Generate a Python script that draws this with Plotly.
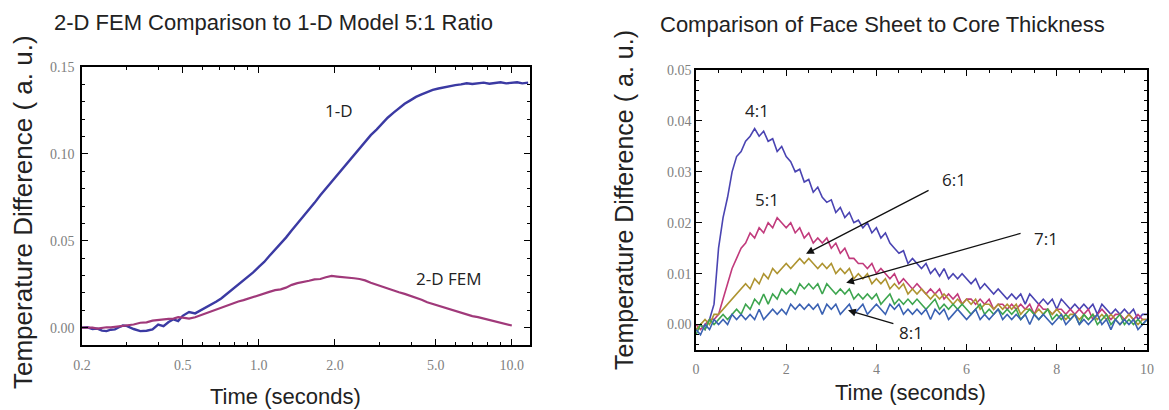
import math
import plotly.graph_objects as go

# ---------------- Left chart data (log time axis) ----------------
LEFT_T = [0.20, 0.21, 0.22, 0.23, 0.24, 0.25, 0.26, 0.27, 0.28, 0.29,
          0.30, 0.32, 0.34, 0.36, 0.38, 0.40, 0.42, 0.44, 0.46, 0.48,
          0.50, 0.53, 0.56, 0.59, 0.62, 0.65, 0.68, 0.71, 0.75, 0.79,
          0.83, 0.87, 0.91, 0.95, 1.00, 1.05, 1.10, 1.16, 1.22, 1.28,
          1.35, 1.42, 1.50, 1.58, 1.66, 1.75, 1.84, 1.94, 2.04, 2.15,
          2.26, 2.38, 2.50, 2.63, 2.77, 2.92, 3.07, 3.23, 3.40, 3.58,
          3.77, 3.97, 4.18, 4.40, 4.63, 4.87, 5.13, 5.40, 5.68, 5.98,
          6.30, 6.63, 6.98, 7.35, 7.74, 8.15, 8.58, 9.03, 9.50, 10.0,
          10.5, 11.0, 11.6]

ONE_D = [0.0000, 0.0002, -0.0008, -0.0006, -0.0017, -0.0020, -0.0012, -0.0010, 0.0002, 0.0012,
         0.0010, -0.0008, -0.0020, -0.0018, -0.0010, 0.0018, 0.0008, 0.0032, 0.0048, 0.0038,
         0.0068, 0.0090, 0.0082, 0.0100, 0.0118, 0.0132, 0.0150, 0.0168, 0.0196, 0.0222,
         0.0248, 0.0272, 0.0298, 0.0318, 0.0350, 0.0378, 0.0412, 0.0448, 0.0482, 0.0518,
         0.0560, 0.0598, 0.0640, 0.0680, 0.0718, 0.0762, 0.0800, 0.0842, 0.0880, 0.0922,
         0.0958, 0.0998, 0.1036, 0.1070, 0.1108, 0.1140, 0.1175, 0.1208, 0.1236, 0.1262,
         0.1288, 0.1308, 0.1328, 0.1342, 0.1356, 0.1368, 0.1376, 0.1384, 0.1390, 0.1396,
         0.1400, 0.1406, 0.1402, 0.1408, 0.1410, 0.1404, 0.1410, 0.1412, 0.1406, 0.1410,
         0.1412, 0.1406, 0.1410]

TWO_D_FEM = [0.0000, 0.0001, 0.0000, -0.0006, 0.0000, 0.0002, 0.0001, 0.0004, 0.0008, 0.0010,
             0.0012, 0.0018, 0.0028, 0.0030, 0.0040, 0.0042, 0.0044, 0.0050, 0.0052, 0.0060,
             0.0058, 0.0052, 0.0060, 0.0072, 0.0084, 0.0098, 0.0108, 0.0118, 0.0128, 0.0140,
             0.0150, 0.0158, 0.0168, 0.0176, 0.0188, 0.0196, 0.0206, 0.0216, 0.0220, 0.0230,
             0.0246, 0.0256, 0.0262, 0.0270, 0.0278, 0.0280, 0.0290, 0.0298, 0.0294, 0.0292,
             0.0290, 0.0284, 0.0280, 0.0272, 0.0258, 0.0246, 0.0236, 0.0224, 0.0214, 0.0204,
             0.0194, 0.0184, 0.0172, 0.0160, 0.0146, 0.0136, 0.0124, 0.0114, 0.0104, 0.0094,
             0.0084, 0.0074, 0.0066, 0.0060, 0.0052, 0.0044, 0.0036, 0.0030, 0.0022, 0.0012]

LEFT_XTICKS = [0.2, 0.5, 1.0, 2.0, 5.0, 10.0]
LEFT_XTICKTEXT = ["0.2", "0.5", "1.0", "2.0", "5.0", "10.0"]
LEFT_XMINOR = [0.3, 0.4, 0.6, 0.7, 0.8, 0.9, 3, 4, 6, 7, 8, 9]
LEFT_YTICKS = [0.00, 0.05, 0.10, 0.15]
LEFT_YTICKTEXT = ["0.00", "0.05", "0.10", "0.15"]

# ---------------- Right chart data (linear time axis) ----------------
RIGHT_T = [0.0, 0.1, 0.2, 0.3, 0.4, 0.5, 0.6, 0.7, 0.8, 0.9,
           1.0, 1.1, 1.2, 1.3, 1.4, 1.5, 1.6, 1.7, 1.8, 1.9,
           2.0, 2.1, 2.2, 2.3, 2.4, 2.5, 2.6, 2.7, 2.8, 2.9,
           3.0, 3.1, 3.2, 3.3, 3.4, 3.5, 3.6, 3.7, 3.8, 3.9,
           4.0, 4.1, 4.2, 4.3, 4.4, 4.5, 4.6, 4.7, 4.8, 4.9,
           5.0, 5.1, 5.2, 5.3, 5.4, 5.5, 5.6, 5.7, 5.8, 5.9,
           6.0, 6.1, 6.2, 6.3, 6.4, 6.5, 6.6, 6.7, 6.8, 6.9,
           7.0, 7.1, 7.2, 7.3, 7.4, 7.5, 7.6, 7.7, 7.8, 7.9,
           8.0, 8.1, 8.2, 8.3, 8.4, 8.5, 8.6, 8.7, 8.8, 8.9,
           9.0, 9.1, 9.2, 9.3, 9.4, 9.5, 9.6, 9.7, 9.8, 9.9,
           10.0]

RATIO_4_1 = [-0.001, 0.000, -0.001, 0.001, 0.004, 0.015, 0.021, 0.025, 0.030, 0.033,
             0.034, 0.036, 0.037, 0.0385, 0.037, 0.038, 0.036, 0.0365, 0.034, 0.035,
             0.033, 0.032, 0.030, 0.0305, 0.028, 0.0285, 0.026, 0.027, 0.025, 0.024,
             0.0245, 0.022, 0.023, 0.021, 0.022, 0.020, 0.0205, 0.019, 0.020, 0.018,
             0.019, 0.017, 0.018, 0.016, 0.015, 0.014, 0.0145, 0.012, 0.013, 0.012,
             0.011, 0.012, 0.010, 0.011, 0.0095, 0.011, 0.009, 0.010, 0.009, 0.010,
             0.009, 0.008, 0.009, 0.007, 0.008, 0.007, 0.006, 0.007, 0.006, 0.005,
             0.006, 0.005, 0.006, 0.004, 0.006, 0.005, 0.004, 0.005, 0.004, 0.005,
             0.003, 0.005, 0.004, 0.003, 0.004, 0.003, 0.004, 0.003, 0.004, 0.002,
             0.004, 0.003, 0.002, 0.003, 0.002, 0.003, 0.002, 0.003, 0.001, 0.002,
             0.002]

RATIO_5_1 = [0.000, -0.001, 0.000, 0.001, 0.001, 0.002, 0.005, 0.008, 0.011, 0.013,
             0.015, 0.016, 0.018, 0.017, 0.019, 0.018, 0.020, 0.019, 0.021, 0.020,
             0.019, 0.020, 0.018, 0.019, 0.017, 0.018, 0.016, 0.017, 0.016, 0.017,
             0.015, 0.016, 0.014, 0.015, 0.013, 0.013, 0.012, 0.012, 0.011, 0.012,
             0.010, 0.011, 0.010, 0.009, 0.010, 0.008, 0.009, 0.008, 0.007, 0.008,
             0.007, 0.006, 0.007, 0.006, 0.007, 0.005, 0.006, 0.005, 0.006, 0.004,
             0.005, 0.005, 0.004, 0.005, 0.004, 0.005, 0.003, 0.004, 0.004, 0.003,
             0.004, 0.003, 0.004, 0.003, 0.004, 0.002, 0.004, 0.003, 0.003, 0.002,
             0.003, 0.003, 0.002, 0.003, 0.002, 0.003, 0.002, 0.003, 0.001, 0.002,
             0.003, 0.002, 0.001, 0.002, 0.002, 0.001, 0.002, 0.001, 0.002, 0.001,
             0.001]

RATIO_6_1 = [-0.001, 0.000, 0.001, 0.000, 0.002, 0.002, 0.003, 0.004, 0.005, 0.006,
             0.007, 0.008, 0.007, 0.009, 0.008, 0.010, 0.009, 0.011, 0.010, 0.011,
             0.012, 0.011, 0.012, 0.013, 0.012, 0.013, 0.012, 0.011, 0.012, 0.011,
             0.012, 0.010, 0.011, 0.010, 0.011, 0.009, 0.010, 0.009, 0.010, 0.008,
             0.009, 0.008, 0.009, 0.007, 0.008, 0.007, 0.008, 0.006, 0.007, 0.006,
             0.007, 0.006, 0.005, 0.006, 0.005, 0.006, 0.005, 0.004, 0.005, 0.004,
             0.005, 0.004, 0.005, 0.003, 0.004, 0.004, 0.003, 0.004, 0.003, 0.004,
             0.003, 0.004, 0.002, 0.003, 0.003, 0.002, 0.003, 0.002, 0.003, 0.002,
             0.003, 0.002, 0.001, 0.002, 0.002, 0.001, 0.002, 0.001, 0.002, 0.001,
             0.002, 0.001, 0.002, 0.001, 0.000, 0.001, 0.002, 0.001, 0.000, 0.001,
             0.001]

RATIO_7_1 = [-0.002, 0.000, -0.001, 0.001, 0.000, 0.001, 0.002, 0.001, 0.002, 0.003,
             0.002, 0.004, 0.003, 0.005, 0.004, 0.006, 0.004, 0.006, 0.005, 0.007,
             0.006, 0.007, 0.006, 0.008, 0.007, 0.008, 0.007, 0.008, 0.006, 0.008,
             0.007, 0.006, 0.007, 0.006, 0.007, 0.005, 0.006, 0.005, 0.006, 0.005,
             0.006, 0.004, 0.005, 0.006, 0.004, 0.005, 0.004, 0.005, 0.004, 0.005,
             0.004, 0.003, 0.004, 0.005, 0.003, 0.004, 0.003, 0.004, 0.003, 0.004,
             0.003, 0.002, 0.003, 0.004, 0.002, 0.003, 0.002, 0.003, 0.002, 0.003,
             0.002, 0.003, 0.001, 0.002, 0.003, 0.002, 0.001, 0.002, 0.003, 0.001,
             0.002, 0.001, 0.002, 0.001, 0.002, 0.000, 0.002, 0.001, 0.002, 0.000,
             0.001, 0.002, 0.000, 0.001, 0.002, 0.000, 0.001, 0.000, 0.001, 0.000,
             0.001]

RATIO_8_1 = [-0.001, -0.002, 0.000, -0.001, 0.001, 0.000, 0.001, 0.000, 0.002, 0.001,
             0.002, 0.001, 0.002, 0.001, 0.003, 0.001, 0.002, 0.003, 0.002, 0.003,
             0.002, 0.004, 0.003, 0.004, 0.003, 0.004, 0.003, 0.004, 0.002, 0.004,
             0.003, 0.004, 0.002, 0.003, 0.004, 0.002, 0.003, 0.004, 0.002, 0.003,
             0.004, 0.003, 0.002, 0.004, 0.003, 0.004, 0.002, 0.003, 0.002, 0.003,
             0.002, 0.003, 0.001, 0.003, 0.002, 0.003, 0.001, 0.002, 0.003, 0.002,
             0.001, 0.002, 0.003, 0.001, 0.002, 0.001, 0.002, 0.003, 0.001, 0.002,
             0.001, 0.002, 0.001, 0.002, 0.000, 0.002, 0.001, 0.002, 0.001, 0.000,
             0.001, 0.002, 0.000, 0.001, 0.002, 0.000, 0.001, 0.000, 0.001, 0.002,
             0.000, 0.001, -0.001, 0.001, 0.000, 0.001, 0.000, 0.001, -0.001, 0.000,
             0.001]

RIGHT_SERIES = [("4:1", RATIO_4_1, "#4a44b2"),
                ("5:1", RATIO_5_1, "#c13a7c"),
                ("6:1", RATIO_6_1, "#ae9431"),
                ("7:1", RATIO_7_1, "#3da54f"),
                ("8:1", RATIO_8_1, "#3b62b3")]

W, H = 1169, 410

def px_x(p):
    return p / W

def px_y(p):
    return 1 - p / H

fig = go.Figure()

fig.add_trace(go.Scatter(x=LEFT_T, y=ONE_D, mode="lines",
                         line=dict(color="#3b3aa3", width=2.4),
                         xaxis="x", yaxis="y", showlegend=False))
fig.add_trace(go.Scatter(x=LEFT_T[:len(TWO_D_FEM)], y=TWO_D_FEM, mode="lines",
                         line=dict(color="#a0397a", width=2.2),
                         xaxis="x", yaxis="y", showlegend=False))

for name, vals, col in RIGHT_SERIES:
    fig.add_trace(go.Scatter(x=RIGHT_T, y=vals, mode="lines", name=name,
                             line=dict(color=col, width=1.6),
                             xaxis="x2", yaxis="y2", showlegend=False))

tickfont = dict(family="Liberation Serif, Times New Roman, serif", size=14, color="#808080")
axis_common = dict(showline=True, linecolor="black", linewidth=1.5, mirror="allticks",
                   ticks="inside", ticklen=6, tickwidth=1.2, tickcolor="black",
                   showgrid=False, zeroline=False, tickfont=tickfont, automargin=False)

fig.update_layout(
    width=W, height=H, autosize=False,
    margin=dict(l=0, r=0, t=0, b=0, pad=0),
    paper_bgcolor="white", plot_bgcolor="white",
    xaxis=dict(domain=[px_x(82), px_x(530)], type="log",
               range=[math.log10(0.2), math.log10(11.8)],
               tickmode="array", tickvals=LEFT_XTICKS, ticktext=LEFT_XTICKTEXT,
               ticklabelstandoff=6,
               minor=dict(tickmode="array", tickvals=LEFT_XMINOR, ticks="inside",
                          ticklen=3, tickcolor="black", tickwidth=1),
               anchor="y", **axis_common),
    yaxis=dict(domain=[px_y(345), px_y(67)], range=[-0.01, 0.15],
               tickmode="array", tickvals=LEFT_YTICKS, ticktext=LEFT_YTICKTEXT,
               ticklabelstandoff=3,
               minor=dict(dtick=0.01, tick0=0, ticks="inside", ticklen=3,
                          tickcolor="black", tickwidth=1),
               anchor="x", **axis_common),
    xaxis2=dict(domain=[px_x(696), px_x(1147)], range=[0, 10],
                tickmode="linear", tick0=0, dtick=2, ticklabelstandoff=5,
                minor=dict(dtick=0.5, tick0=0, ticks="inside", ticklen=3,
                           tickcolor="black", tickwidth=1),
                anchor="y2", **axis_common),
    yaxis2=dict(domain=[px_y(350), px_y(70)], range=[-0.005, 0.05],
                tickmode="linear", tick0=0, dtick=0.01, tickformat=".2f",
                minor=dict(dtick=0.002, tick0=0, ticks="inside", ticklen=3,
                           tickcolor="black", tickwidth=1),
                anchor="x2", **axis_common),
)

sans = "Liberation Sans, Arial, sans-serif"
label_font = "Open Sans, Calibri, sans-serif"
ann = []

def paper_text(text, x, y, size, angle=0):
    return dict(text=text, x=px_x(x), y=px_y(y), xref="paper", yref="paper",
                xanchor="center", yanchor="middle", showarrow=False, textangle=angle,
                font=dict(family=sans, size=size, color="#222222"))

# Titles
ann.append(paper_text("2-D FEM Comparison to 1-D Model 5:1 Ratio", 273, 22, 22))
ann.append(paper_text("Comparison of Face Sheet to Core Thickness", 882, 24, 22))
# Axis titles
ann.append(paper_text("Temperature Difference ( a. u.)", 23, 212, 26, -90))
ann.append(paper_text("Temperature Difference ( a. u.)", 624, 200, 25, -90))
ann.append(paper_text("Time (seconds)", 285, 396, 22))
ann.append(paper_text("Time (seconds)", 910, 392, 22))

# Left curve labels (log axis -> log10 coordinates)
ann.append(dict(text="1-D", x=math.log10(2.08), y=0.1249, xref="x", yref="y",
                xanchor="center", yanchor="middle",
                showarrow=False, font=dict(family=label_font, size=17, color="#222222")))
ann.append(dict(text="2-D FEM", x=math.log10(5.6), y=0.0282, xref="x", yref="y",
                xanchor="center", yanchor="middle",
                showarrow=False, font=dict(family=label_font, size=17, color="#222222")))
# Right curve labels
LABELS_RIGHT = [("4:1", 1.35, 0.0421), ("5:1", 1.57, 0.0245), ("6:1", 5.72, 0.0284),
                ("7:1", 7.77, 0.0170), ("8:1", 4.76, -0.0015)]
for txt, lx, ly in LABELS_RIGHT:
    ann.append(dict(text=txt, x=lx, y=ly, xref="x2", yref="y2", showarrow=False,
                    xanchor="center", yanchor="middle",
                    font=dict(family=label_font, size=17, color="#222222")))
# Arrows (head, tail)
ARROWS = [((2.44, 0.0139), (5.19, 0.0265)),
          ((3.33, 0.0082), (7.23, 0.0180)),
          ((3.37, 0.0028), (4.41, 0.0001))]
for (hx, hy), (tx, ty) in ARROWS:
    ann.append(dict(text="", x=hx, y=hy, ax=tx, ay=ty, xref="x2", yref="y2",
                    axref="x2", ayref="y2", showarrow=True, arrowhead=2,
                    arrowsize=1.2, arrowwidth=1.3, arrowcolor="#111111"))

fig.update_layout(annotations=ann)

fig.write_html("out.html", config={"displayModeBar": False},
               post_script="document.body.style.margin='0';")
